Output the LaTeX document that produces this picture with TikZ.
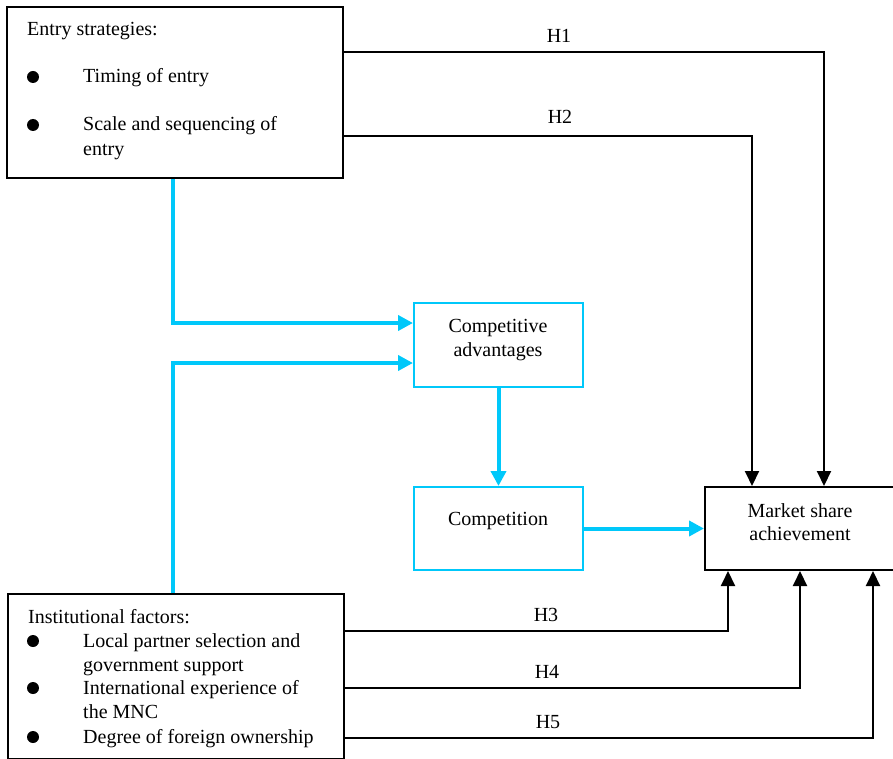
\documentclass[tikz,border=0pt]{standalone}
\usepackage{fontspec}
\setmainfont{Liberation Serif}
\usetikzlibrary{arrows.meta,calc}
\definecolor{flowblue}{RGB}{0,200,250}
\begin{document}
\begin{tikzpicture}[x=1pt,y=-1pt,
  txt/.style={inner sep=0pt, font=\fontsize{20}{24}\selectfont},
  blackbox/.style={draw=black, line width=2pt, inner sep=0pt, anchor=north west},
  bluebox/.style={draw=flowblue, line width=2pt, inner sep=0pt, anchor=north west},
  blk/.style={draw=black, line width=2pt, -{Triangle[length=15pt,width=14pt]}},
  blu/.style={draw=flowblue, line width=4pt, -{Triangle[length=15pt,width=15pt]}},
  dot/.style={circle, fill=black, inner sep=0pt, minimum size=12pt}]
\useasboundingbox (0,0) rectangle (893,759);
\begin{scope}
\clip (0,0) rectangle (893,759);

% boxes
\node[blackbox, minimum width=336pt, minimum height=171pt] (entry) at (6,6) {};
\node[blackbox, minimum width=336pt, minimum height=165pt] (inst) at (7,593) {};
\node[bluebox, minimum width=169pt, minimum height=84pt] (ca) at (413,302) {};
\node[bluebox, minimum width=169pt, minimum height=83pt] (comp) at (413,486) {};
\node[blackbox, minimum width=196pt, minimum height=83pt] (market) at (704,486) {};

% entry strategies
\node[txt, anchor=base west] (entryhead) at (27,36) {Entry strategies:};
\node[dot] (eb1) at (33,77) {};
\node[txt, anchor=base west] (e1) at (83,83) {Timing of entry};
\node[dot] (eb2) at (33,125) {};
\node[txt, anchor=base west] (e2a) at (83,131) {Scale and sequencing of};
\node[txt, anchor=base west] (e2b) at (83,156) {entry};

% institutional factors
\node[txt, anchor=base west] (insthead) at (28,623) {Institutional factors:};
\node[dot] (ib1) at (33,641) {};
\node[txt, anchor=base west] (i1a) at (83,647) {Local partner selection and};
\node[txt, anchor=base west] (i1b) at (83,671) {government support};
\node[dot] (ib2) at (33,688) {};
\node[txt, anchor=base west] (i2a) at (83,694) {International experience of};
\node[txt, anchor=base west] (i2b) at (83,718) {the MNC};
\node[dot] (ib3) at (33,737) {};
\node[txt, anchor=base west] (i3) at (83,743) {Degree of foreign ownership};

% middle and outcome labels
\node[txt, anchor=base] (cat1) at (498,332) {Competitive};
\node[txt, anchor=base] (cat2) at (498,356) {advantages};
\node[txt, anchor=base] (compt) at (498,525) {Competition};
\node[txt, anchor=base] (mt1) at (800,517) {Market share};
\node[txt, anchor=base] (mt2) at (800,540) {achievement};

% hypothesis paths
\draw[blk] ([yshift=-46pt]entry.north east) -| ([xshift=120pt]market.north west);
\draw[blk] ([yshift=-130pt]entry.north east) -| ([xshift=48pt]market.north west);
\draw[blk] ([yshift=-38pt]inst.north east) -| ([xshift=24pt]market.south west);
\draw[blk] ([yshift=-95pt]inst.north east) -| ([xshift=96pt]market.south west);
\draw[blk] ([yshift=-145pt]inst.north east) -| ([xshift=169pt]market.south west);

\node[txt, anchor=base] (h1) at (559,43) {H1};
\node[txt, anchor=base] (h2) at (560,124) {H2};
\node[txt, anchor=base] (h3) at (546,621) {H3};
\node[txt, anchor=base] (h4) at (547,678) {H4};
\node[txt, anchor=base] (h5) at (548,728) {H5};

% mediating paths
\draw[blu] ([xshift=167pt]entry.south west) |- ([yshift=-21pt]ca.north west);
\draw[blu] ([xshift=166pt]inst.north west) |- ([yshift=-61pt]ca.north west);
\draw[blu] (ca.south) -- (comp.north);
\draw[blu] (comp.east) -- (market.west);
\end{scope}
\end{tikzpicture}
\end{document}
